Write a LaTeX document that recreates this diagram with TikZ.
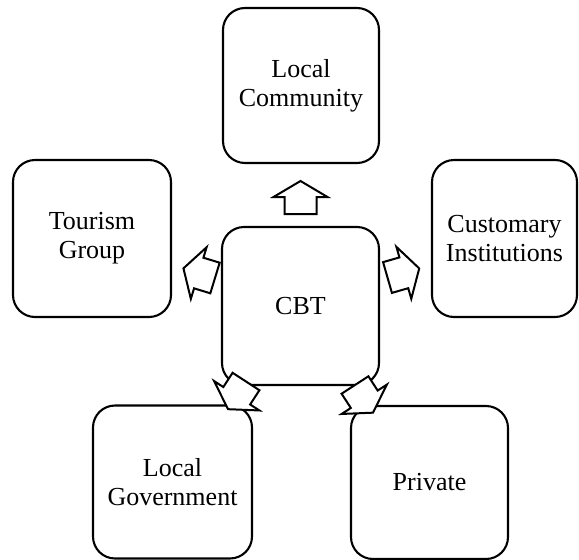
\documentclass[tikz,border=0pt]{standalone}
\usepackage{fontspec}
\setmainfont{Liberation Serif}
\begin{document}
\begin{tikzpicture}[x=1pt,y=-1pt,
  box/.style={draw, line width=2.1pt, rounded corners=22pt, align=center,
    font=\fontsize{26}{29}\selectfont, inner sep=0pt},
  barrow/.style={draw, fill=white, line width=2pt, line join=miter},
  blockarrow/.pic={\path[barrow] (0,-16) -- (17,-16) -- (17,-27) -- (33,0)
      -- (17,27) -- (17,16) -- (0,16) -- cycle;}]
\useasboundingbox (0,0) rectangle (579,560);
\node[box, minimum width=156pt, minimum height=155pt] (lc) at (301,85.5) {Local\\Community};
\node[box, minimum width=158pt, minimum height=157pt] (tg) at (92,238.5) {Tourism\\Group};
\node[box, minimum width=145pt, minimum height=157pt] (ci) at (504.5,238.5) {Customary\\Institutions};
\node[box, minimum width=157pt, minimum height=158pt] (cbt) at (300.5,306) {CBT};
\node[box, minimum width=159pt, minimum height=153pt] (lg) at (172.5,482) {Local\\Government};
\node[box, minimum width=157pt, minimum height=153pt] (pr) at (429.5,482.5) {Private};
\pic[rotate=90] at (300.5,214) {blockarrow};
\pic[rotate=163] at (215,278) {blockarrow};
\pic[rotate=16] at (387.5,277.5) {blockarrow};
\pic[rotate=237] at (246,381.5) {blockarrow};
\pic[rotate=303] at (355,385) {blockarrow};
\end{tikzpicture}
\end{document}
